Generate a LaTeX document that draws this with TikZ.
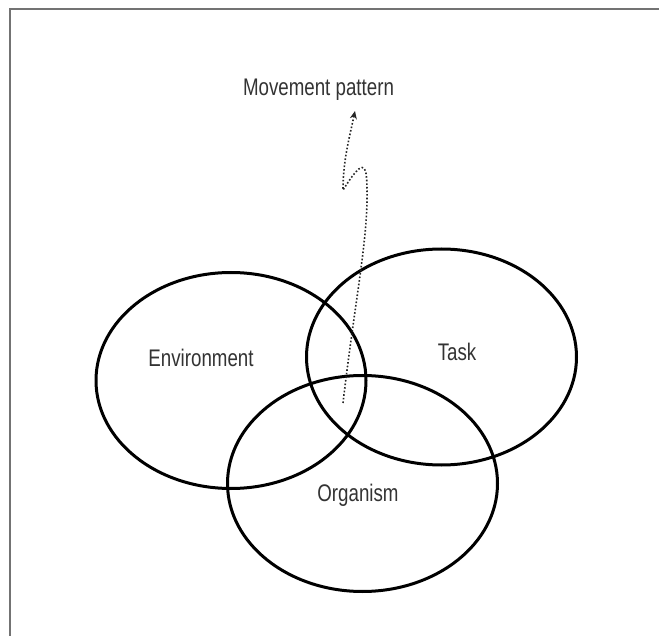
\documentclass[tikz,border=0pt]{standalone}
\usepackage{fontspec}
\setmainfont{Liberation Sans}[FakeStretch=0.78]
\usetikzlibrary{arrows.meta}
\tikzset{>=stealth}
\tikzset{ring/.style={line width=1.5pt, black},
  label/.style={text=black!80, font=\fontsize{12}{14}\selectfont, inner sep=0pt}}

\begin{document}
\begin{tikzpicture}[x=0.5pt, y=-0.5pt]
\useasboundingbox (0,0) rectangle (659,636);
\draw[black!55, line width=1pt] (659,9.5) -- (10,9.5) -- (10,636);
\foreach \cx/\cy in {231/380.5, 441.5/357, 362.5/483.5}
\draw[ring] (\cx,\cy) ellipse [x radius=67.5pt, y radius=54pt];
\node[label] (env) at (201,358) {Environment};
\node[label] (task) at (457,352) {Task};
\node[label] (org) at (358,495) {Organism};
\node[label] (move) at (318.5,90) {Movement pattern};
\coordinate (start) at (343,403);
\coordinate (tip) at (355,111);
\draw[-{Stealth[length=4pt,width=3.5pt]}, densely dotted, line width=0.8pt, black!85] (start) .. controls (355,300) and (368,240) .. (367,190)
.. controls (367,160) and (362,160) .. (343,190) .. controls (343,160) and (350,135) .. (tip);
\end{tikzpicture}
\end{document}
